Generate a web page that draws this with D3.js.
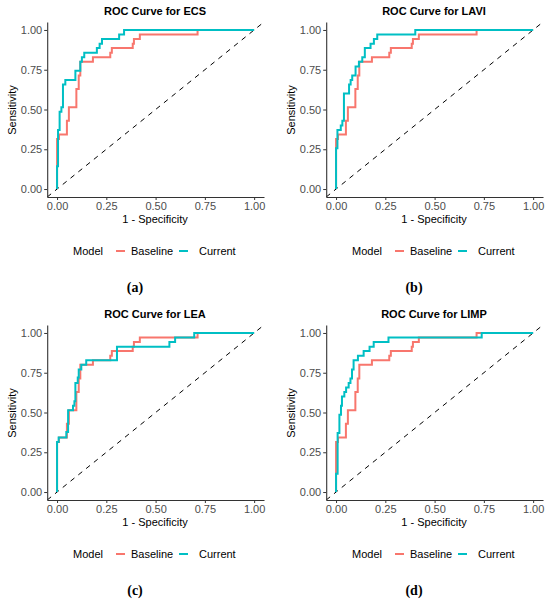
<!DOCTYPE html>
<html>
<head>
<meta charset="utf-8">
<script src="https://cdn.jsdelivr.net/npm/d3@7"></script>
<style>
  body { margin: 0; background: #fff; }
  svg { display: block; font-family: "Liberation Sans", Arial, sans-serif; }
</style>
</head>
<body>
<div id="chart"></div>
<script>
// ROC points [1 - specificity, sensitivity]
var baseline = [[0,0],[0,0.314],[0.01,0.343],[0.05,0.429],[0.06,0.486],[0.06,0.514],[0.098,0.629],[0.11,0.714],[0.118,0.8],[0.182,0.829],[0.27,0.857],[0.278,0.886],[0.384,0.914],[0.39,0.943],[0.42,0.971],[0.713,1],[1,1]];
var ecsCurrent = [[0,0],[0,0.143],[0.005,0.371],[0.013,0.486],[0.022,0.514],[0.03,0.657],[0.042,0.686],[0.093,0.743],[0.118,0.8],[0.126,0.829],[0.138,0.857],[0.202,0.886],[0.216,0.914],[0.228,0.943],[0.315,0.971],[0.34,1],[1,1]];
var laviCurrent = [[0,0],[0,0.257],[0.007,0.371],[0.024,0.4],[0.032,0.429],[0.04,0.6],[0.066,0.657],[0.074,0.686],[0.082,0.714],[0.099,0.771],[0.116,0.8],[0.133,0.829],[0.146,0.886],[0.175,0.914],[0.192,0.943],[0.209,0.971],[0.402,1],[1,1]];
var leaCurrent = [[0,0],[0,0.314],[0.008,0.343],[0.047,0.378],[0.056,0.514],[0.081,0.543],[0.088,0.571],[0.093,0.686],[0.105,0.72],[0.11,0.771],[0.123,0.8],[0.148,0.829],[0.304,0.914],[0.57,0.943],[0.599,0.971],[0.696,1],[1,1]];
var limpCurrent = [[0,0],[0,0.115],[0.008,0.371],[0.017,0.486],[0.025,0.543],[0.03,0.6],[0.042,0.629],[0.051,0.657],[0.064,0.686],[0.073,0.714],[0.081,0.771],[0.089,0.829],[0.111,0.857],[0.14,0.886],[0.17,0.914],[0.191,0.943],[0.266,0.971],[0.739,1],[1,1]];

var panelNames = ["ECS", "LAVI", "LEA", "LIMP"];
var panelLetters = ["(a)", "(b)", "(c)", "(d)"];
var currentSeries = [ecsCurrent, laviCurrent, leaCurrent, limpCurrent];
var modelNames = ["Baseline", "Current"];
var tickValues = [0, 0.25, 0.5, 0.75, 1];

var colors = { "Baseline": "#F8766D", "Current": "#00BFC4" };

var svg = d3.select("#chart").append("svg")
  .attr("width", 550)
  .attr("height", 605);

var offsets = [[0, 0], [279, 0], [0, 303], [279, 303]];

panelNames.forEach(function (name, i) {
  var g = svg.append("g")
    .attr("transform", "translate(" + offsets[i][0] + "," + offsets[i][1] + ")");

  var x = d3.scaleLinear().domain([-0.05, 1.05]).range([47.2, 264]);
  var y = d3.scaleLinear().domain([-0.05, 1.05]).range([197, 22]);

  // chance line spans the whole panel
  g.append("line")
    .attr("x1", x(-0.05)).attr("y1", y(-0.05))
    .attr("x2", x(1.05)).attr("y2", y(1.05))
    .attr("stroke", "#000")
    .attr("stroke-width", 1)
    .attr("stroke-dasharray", "5,5");

  var line = d3.line()
    .x(function (d) { return x(d[0]); })
    .y(function (d) { return y(d[1]); })
    .curve(d3.curveStepAfter);

  [baseline, currentSeries[i]].forEach(function (pts, k) {
    g.append("path")
      .datum(pts)
      .attr("d", line)
      .attr("fill", "none")
      .attr("stroke", colors[modelNames[k]])
      .attr("stroke-width", 2);
  });

  var xAxis = g.append("g")
    .attr("transform", "translate(0," + y(-0.05) + ")")
    .call(d3.axisBottom(x).tickValues(tickValues).tickFormat(d3.format(".2f"))
      .tickSize(3).tickSizeOuter(0).tickPadding(2));
  var yAxis = g.append("g")
    .attr("transform", "translate(" + x(-0.05) + ",0)")
    .call(d3.axisLeft(y).tickValues(tickValues).tickFormat(d3.format(".2f"))
      .tickSize(3).tickSizeOuter(0).tickPadding(2));

  [xAxis, yAxis].forEach(function (ax) {
    ax.select(".domain").attr("stroke", "#333").attr("stroke-width", 1.1);
    ax.selectAll(".tick line").attr("stroke", "#333");
    ax.selectAll(".tick text")
      .attr("fill", "#4D4D4D")
      .style("font-size", "11px")
      .style("font-family", "'Liberation Sans', Arial, sans-serif");
  });

  g.append("text")
    .attr("x", 155).attr("y", 15)
    .attr("text-anchor", "middle")
    .style("font-size", "11px")
    .style("font-weight", "bold")
    .text("ROC Curve for " + name);

  g.append("text")
    .attr("transform", "translate(16,110) rotate(-90)")
    .attr("text-anchor", "middle")
    .style("font-size", "11px")
    .text("Sensitivity");

  g.append("text")
    .attr("x", 155).attr("y", 223)
    .attr("text-anchor", "middle")
    .style("font-size", "11px")
    .text("1 - Specificity");

  // legend
  var lg = g.append("g").attr("transform", "translate(0,251)");
  lg.append("text").attr("x", 73).attr("y", 4).style("font-size", "11px").text("Model");
  var keyX = [116, 179];
  var labX = [131, 199];
  modelNames.forEach(function (m, k) {
    lg.append("line")
      .attr("x1", keyX[k]).attr("x2", keyX[k] + 9)
      .attr("y1", 0).attr("y2", 0)
      .attr("stroke", colors[m]).attr("stroke-width", 2);
    lg.append("text").attr("x", labX[k]).attr("y", 4)
      .style("font-size", "11px").text(m);
  });

  g.append("text")
    .attr("x", 135).attr("y", 292)
    .attr("text-anchor", "middle")
    .style("font-family", "'Liberation Serif', 'DejaVu Serif', serif")
    .style("font-size", "14px")
    .style("font-weight", "bold")
    .text(panelLetters[i]);
});
</script>
</body>
</html>
